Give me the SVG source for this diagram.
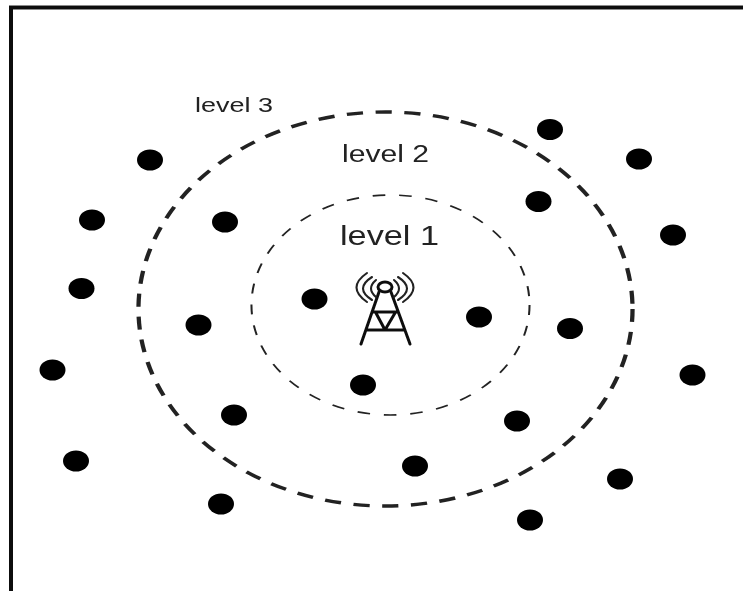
<svg xmlns="http://www.w3.org/2000/svg" width="743" height="591" viewBox="0 0 743 591">
<defs><filter id="soft" x="-5%" y="-5%" width="110%" height="110%"><feGaussianBlur stdDeviation="0.6"/></filter></defs>
<style>
.lbl{font-family:"Liberation Sans",Arial,sans-serif;fill:#222}
.ring{fill:none;stroke:#222}
.tw{fill:none;stroke:#111;stroke-width:3;stroke-linecap:round;stroke-linejoin:round}
.wave{fill:none;stroke:#222;stroke-width:2.1;stroke-linecap:round}
</style>
<rect width="743" height="591" fill="#fff"/>
<g filter="url(#soft)">
<path id="frame" d="M11 591V7.500H743" fill="none" stroke="#111" stroke-width="4"/>
<g id="connectors">
<circle id="ring-level-2" class="ring" r="197" transform="translate(385.500 309) scale(1.254 1)" stroke-width="3.400" stroke-dasharray="13 10"/>
<circle id="ring-level-1" class="ring" r="110" transform="translate(390.500 305) scale(1.264 1)" stroke-width="1.600" stroke-dasharray="10 11"/>
</g>
<g id="tower">
<ellipse class="tw" cx="385" cy="287" rx="7" ry="5"/>
<path class="tw" d="M379 292L361 344M391 292L410 344M373 312H397M367 330H403M376 313L385 330L395 313"/>
<path class="wave" d="M376 280Q366 288.500 376 297M372 277Q354 288.500 372 300M367 273Q346 287.500 367 302M394 280Q404 288.500 394 297M398 277Q416 288.500 398 300M403 273Q424 287.500 403 302"/>
</g>
<g id="labels">
<text class="lbl" x="195" y="112" font-size="19.500" textLength="78" lengthAdjust="spacingAndGlyphs">level 3</text>
<text class="lbl" x="342" y="162" font-size="23.500" textLength="87" lengthAdjust="spacingAndGlyphs">level 2</text>
<text class="lbl" x="340" y="245" font-size="27" textLength="99" lengthAdjust="spacingAndGlyphs">level 1</text>
</g>
<g id="nodes">
<ellipse id="n1" cx="150" cy="160" rx="13" ry="10.500"/>
<ellipse id="n2" cx="92" cy="220" rx="13" ry="10.500"/>
<ellipse id="n3" cx="81.500" cy="288.500" rx="13" ry="10.500"/>
<ellipse id="n4" cx="52.500" cy="370" rx="13" ry="10.500"/>
<ellipse id="n5" cx="76" cy="461" rx="13" ry="10.500"/>
<ellipse id="n6" cx="221" cy="504" rx="13" ry="10.500"/>
<ellipse id="n7" cx="225" cy="222" rx="13" ry="10.500"/>
<ellipse id="n8" cx="198.500" cy="325" rx="13" ry="10.500"/>
<ellipse id="n9" cx="234" cy="415" rx="13" ry="10.500"/>
<ellipse id="n10" cx="314.500" cy="299" rx="13" ry="10.500"/>
<ellipse id="n11" cx="363" cy="385" rx="13" ry="10.500"/>
<ellipse id="n12" cx="479" cy="317" rx="13" ry="10.500"/>
<ellipse id="n13" cx="415" cy="466" rx="13" ry="10.500"/>
<ellipse id="n14" cx="517" cy="421" rx="13" ry="10.500"/>
<ellipse id="n15" cx="570" cy="328.500" rx="13" ry="10.500"/>
<ellipse id="n16" cx="538.500" cy="201.500" rx="13" ry="10.500"/>
<ellipse id="n17" cx="550" cy="129.500" rx="13" ry="10.500"/>
<ellipse id="n18" cx="639" cy="159" rx="13" ry="10.500"/>
<ellipse id="n19" cx="673" cy="235" rx="13" ry="10.500"/>
<ellipse id="n20" cx="692.500" cy="375" rx="13" ry="10.500"/>
<ellipse id="n21" cx="620" cy="479" rx="13" ry="10.500"/>
<ellipse id="n22" cx="530" cy="520" rx="13" ry="10.500"/>
</g>
</g>
</svg>
